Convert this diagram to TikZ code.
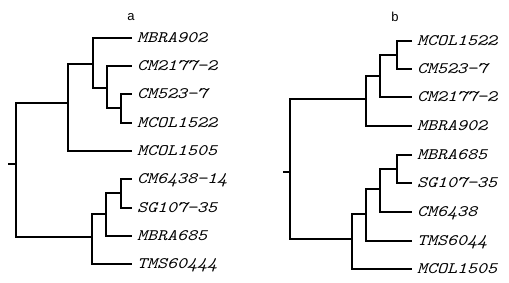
\documentclass[tikz,border=0pt]{standalone}
\usepackage{fontspec}
\newfontfamily\leaffont[FakeStretch=1.19]{Latin Modern Mono}
\setsansfont{Liberation Sans}
\usetikzlibrary{positioning}
\tikzset{
  br/.style={line width=2pt,black},
  leaf/.style={anchor=west,inner xsep=5pt,inner ysep=0pt,text height=9.5pt,text depth=0pt,
    font=\leaffont\itshape\fontsize{16}{18}\selectfont},
  ttl/.style={font=\sffamily\fontsize{13}{15}\selectfont},
}

\begin{document}
\begin{tikzpicture}[x=1pt,y=-1pt]
  \useasboundingbox (0,0) rectangle (509,283);
  % tree a
  \node[ttl] (ta) at (131,17) {a};
  \foreach \t/\y [count=\i] in {MBRA902/38,CM2177−2/66,CM523−7/94,MCOL1522/123,MCOL1505/151,
      CM6438−14/179,SG107−35/208,MBRA685/236,TMS60444/264}
    \node[leaf] (a\i) at (132,\y) {\t};
  \coordinate (sa) at (8,164);
  \coordinate (ra) at (16,164);
  \coordinate (na1) at (68,103);
  \coordinate (na2) at (93,64);
  \coordinate (na3) at (107,88);
  \coordinate (na4) at (121,108);
  \coordinate (na5) at (92,237);
  \coordinate (na6) at (106,214);
  \coordinate (na7) at (121,193);
  \draw[br] (sa) -- (ra);
  \draw[br] (ra) |- (na1);
  \draw[br] (ra) |- (na5);
  \draw[br] (na1) |- (na2);
  \draw[br] (na1) |- (a5.west);
  \draw[br] (na2) |- (a1.west);
  \draw[br] (na2) |- (na3);
  \draw[br] (na3) |- (a2.west);
  \draw[br] (na3) |- (na4);
  \draw[br] (na4) |- (a3.west);
  \draw[br] (na4) |- (a4.west);
  \draw[br] (na5) |- (na6);
  \draw[br] (na5) |- (a9.west);
  \draw[br] (na6) |- (na7);
  \draw[br] (na6) |- (a8.west);
  \draw[br] (na7) |- (a6.west);
  \draw[br] (na7) |- (a7.west);
  % tree b
  \node[ttl] (tb) at (395,17) {b};
  \foreach \t/\y [count=\i] in {MCOL1522/41,CM523−7/69,CM2177−2/97,MBRA902/126,MBRA685/155,
      SG107−35/183,CM6438/212,TMS6044/241,MCOL1505/269}
    \node[leaf] (b\i) at (412,\y) {\t};
  \coordinate (sb) at (283,172);
  \coordinate (rb) at (290,172);
  \coordinate (nb1) at (366,99);
  \coordinate (nb2) at (380,76);
  \coordinate (nb3) at (397,55);
  \coordinate (nb4) at (352,239);
  \coordinate (nb5) at (366,214);
  \coordinate (nb6) at (380,189);
  \coordinate (nb7) at (397,169);
  \draw[br] (sb) -- (rb);
  \draw[br] (rb) |- (nb1);
  \draw[br] (rb) |- (nb4);
  \draw[br] (nb1) |- (nb2);
  \draw[br] (nb1) |- (b4.west);
  \draw[br] (nb2) |- (nb3);
  \draw[br] (nb2) |- (b3.west);
  \draw[br] (nb3) |- (b1.west);
  \draw[br] (nb3) |- (b2.west);
  \draw[br] (nb4) |- (nb5);
  \draw[br] (nb4) |- (b9.west);
  \draw[br] (nb5) |- (nb6);
  \draw[br] (nb5) |- (b8.west);
  \draw[br] (nb6) |- (nb7);
  \draw[br] (nb6) |- (b7.west);
  \draw[br] (nb7) |- (b5.west);
  \draw[br] (nb7) |- (b6.west);
\end{tikzpicture}
\end{document}
